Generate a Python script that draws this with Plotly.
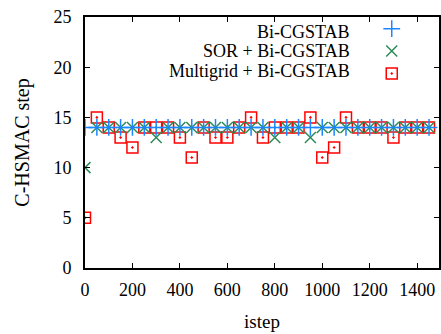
import plotly.graph_objects as go

istep = list(range(0, 1500, 50))
bicg = [14] * 30
sor = [10, 14, 14, 14, 14, 14, 13, 14, 14, 14,
       14, 14, 14, 14, 14, 14, 13, 14, 14, 13,
       14, 14, 14, 14, 14, 14, 14, 14, 14, 14]
mg = [5, 15, 14, 13, 12, 14, 14, 14, 13, 11,
      14, 13, 13, 14, 15, 13, 14, 14, 14, 15,
      11, 12, 15, 14, 14, 14, 13, 14, 14, 14]
labels = ["Bi-CGSTAB", "SOR + Bi-CGSTAB", "Multigrid + Bi-CGSTAB"]

FONT = "Liberation Serif, Times New Roman, serif"
BLUE = "#1a86ff"
GREEN = "#2e8b57"
RED = "#ff0000"

fig = go.Figure()
fig.add_trace(go.Scatter(x=istep, y=mg, mode="markers", name="", legendgroup="c",
                         hovertemplate=labels[2] + ": %{x}, %{y}<extra></extra>",
                         marker=dict(symbol="square-open-dot", size=11, color=RED,
                                     line=dict(width=1.5, color=RED)),
                         legendrank=3))
fig.add_trace(go.Scatter(x=istep, y=sor, mode="markers", name="", legendgroup="b",
                         hovertemplate=labels[1] + ": %{x}, %{y}<extra></extra>",
                         marker=dict(symbol="x-thin", size=11, color=GREEN,
                                     line=dict(width=1.5, color=GREEN)),
                         legendrank=2))
fig.add_trace(go.Scatter(x=istep, y=bicg, mode="markers", name="", legendgroup="a",
                         hovertemplate=labels[0] + ": %{x}, %{y}<extra></extra>",
                         marker=dict(symbol="cross-thin", size=12, color=BLUE,
                                     line=dict(width=1.5, color=BLUE)),
                         legendrank=1))

ann_y = [0.9414, 0.8657, 0.786]
for lab, yy in zip(labels, ann_y):
    fig.add_annotation(x=0.753, y=yy, xref="paper", yref="paper", text=lab,
                       showarrow=False, xanchor="right", yanchor="middle",
                       font=dict(family=FONT, size=18, color="black"))

axis_common = dict(showline=True, linecolor="black", linewidth=2, mirror="ticks",
                   ticks="inside", ticklen=5, tickwidth=1, tickcolor="black",
                   showgrid=False, zeroline=False,
                   tickfont=dict(family=FONT, size=18, color="black"))

fig.update_xaxes(range=[0, 1492], dtick=200, tick0=0, ticklabelstandoff=4,
                 title=dict(text="istep", font=dict(family=FONT, size=19, color="black"), standoff=16),
                 **axis_common)
fig.update_yaxes(range=[0, 25], dtick=5, tick0=0, ticklabelstandoff=8,
                 title=dict(text="C-HSMAC step", font=dict(family=FONT, size=20, color="black"), standoff=18),
                 **axis_common)

fig.update_layout(
    width=441, height=334,
    margin=dict(l=85, r=0, t=17, b=66),
    paper_bgcolor="white", plot_bgcolor="white",
    showlegend=True,
    legend=dict(x=0.81, y=1.013, xanchor="left", yanchor="top",
                bgcolor="rgba(0,0,0,0)", borderwidth=0,
                font=dict(family=FONT, size=13), tracegroupgap=2.5,
                traceorder="grouped"),
)

fig.write_html("out.html")
